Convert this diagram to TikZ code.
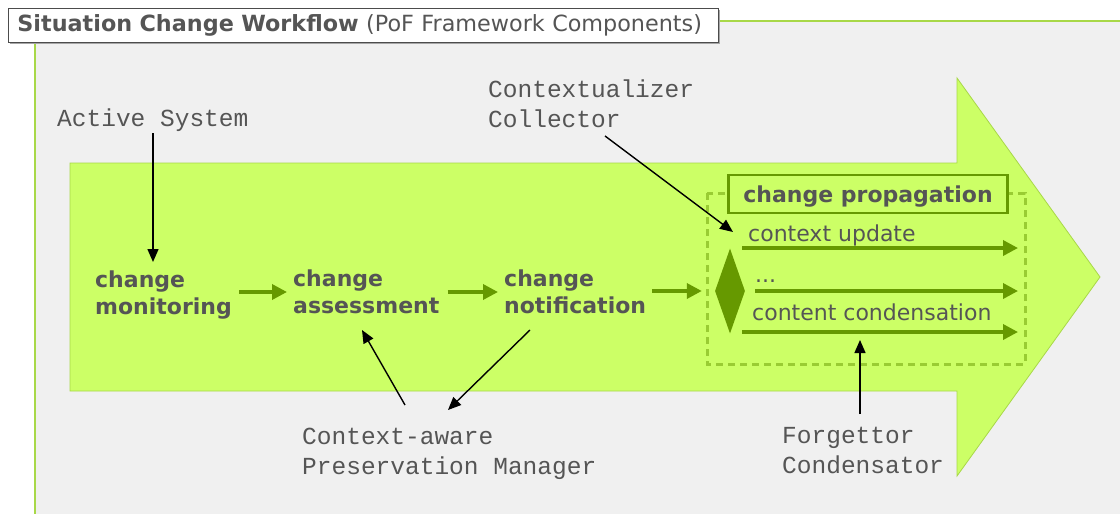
\documentclass[tikz,border=0pt]{standalone}
\usepackage{fontspec}
\setmainfont{DejaVu Sans}
\setmonofont{Liberation Mono}
\usepackage{xcolor}
\usetikzlibrary{shapes.geometric, arrows.meta, positioning}
\definecolor{panelgray}{HTML}{F0F0F0}
\definecolor{arrowgreen}{HTML}{CCFF66}
\definecolor{edgegreen}{HTML}{A8D848}
\definecolor{darkgreen}{HTML}{669900}
\definecolor{dashgreen}{HTML}{99CC33}
\definecolor{textgray}{HTML}{555555}

\begin{document}
\begin{tikzpicture}[x=1pt, y=-1pt,
	stage/.style={font=\fontsize{22}{26.5}\selectfont\bfseries, text=textgray, align=left, inner sep=0pt, anchor=west},
	actor/.style={font=\fontsize{24.5}{30}\selectfont\ttfamily, text=textgray, align=left, inner sep=0pt, anchor=west},
	task/.style={font=\fontsize{22}{26}\selectfont, text=textgray, inner sep=0pt, anchor=west},
	flow/.style={darkgreen, line width=3.5pt, -{Triangle[length=15pt, width=15pt]}},
	link/.style={black, line width=1.4pt, -{Triangle[length=13pt, width=11pt]}}]
	\useasboundingbox (0,0) rectangle (1120,514);
	\fill[panelgray] (35,21) rectangle (1120,514);
	\draw[edgegreen, line width=1.3pt] (35,514) -- (35,21) -- (1120,21);
	\fill[black!35] (10,10) rectangle (720,44);
	\node[draw=black!70, line width=0.8pt, fill=white, anchor=north west, minimum height=34pt, inner xsep=0pt, inner ysep=0pt, text width=710pt, align=left, font=\fontsize{22.3}{26}\selectfont, text=textgray] (title) at (8,8)
		{\hspace*{9pt}\textbf{Situation Change Workflow} (PoF Framework Components)};
	\filldraw[fill=arrowgreen, draw=edgegreen, line width=0.8pt]
		(70,163) -- (957,163) -- (957,78) -- (1100,277) -- (957,476) -- (957,391) -- (70,391) -- cycle;
	\draw[dashgreen, line width=3pt, dash pattern=on 7pt off 5pt] (707,193) rectangle (1025,364);
	\node[stage] (monitoring) at (95,295) {change\\monitoring};
	\node[stage] (assessment) at (293,292) {change\\assessment};
	\node[stage] (notification) at (504,292) {change\\notification};
	\node[diamond, fill=darkgreen, minimum width=30pt, minimum height=85pt, inner sep=0pt] (switch) at (730,291) {};
	\node[draw=darkgreen, line width=2.5pt, fill=arrowgreen, font=\fontsize{22}{26}\selectfont\bfseries, text=textgray, text height=18pt, text depth=2pt, minimum width=279pt, minimum height=38pt, inner sep=0pt] (propagation) at (868,194) {change propagation};
	\node[task] (update) at (748,235) {context update};
	\node[task] (dots) at (755,281) {...};
	\node[task] (condense) at (752,312) {content condensation};
	\coordinate (update-s) at (742,248);
	\coordinate (update-e) at (1018,248);
	\coordinate (dots-s) at (755,291);
	\coordinate (dots-e) at (1018,291);
	\coordinate (condense-s) at (742,332);
	\coordinate (condense-e) at (1018,332);
	\draw[flow] (update-s) -- (update-e);
	\draw[flow] (dots-s) -- (dots-e);
	\draw[flow] (condense-s) -- (condense-e);
	\draw[flow, shorten <=7pt, shorten >=6pt] (monitoring.east |- assessment.west) -- (assessment.west);
	\draw[flow, shorten <=8pt, shorten >=6pt] (assessment) -- (notification);
	\draw[flow, shorten <=6pt, shorten >=13pt] (notification.east |- switch.west) -- (switch.west);
	\node[actor] (active) at (57,120) {Active System};
	\node[actor] (collector) at (488,104) {Contextualizer\\Collector};
	\node[actor] (manager) at (302,454) {Context-aware\\Preservation Manager};
	\node[actor] (forgettor) at (782,450) {Forgettor\\Condensator};
	\coordinate (active-out) at (153,133);
	\coordinate (monitor-in) at (153,262);
	\coordinate (collector-out) at (605,136);
	\coordinate (update-in) at (733,232);
	\coordinate (manager-out) at (405,405);
	\coordinate (assess-in) at (362,330);
	\coordinate (notify-out) at (530,330);
	\coordinate (manager-in) at (448,410);
	\coordinate (forgettor-out) at (860,414);
	\coordinate (condense-in) at (860,340);
	\draw[link] (active-out) -- (monitor-in);
	\draw[link] (collector-out) -- (update-in);
	\draw[link] (manager-out) -- (assess-in);
	\draw[link] (notify-out) -- (manager-in);
	\draw[link] (forgettor-out) -- (condense-in);
\end{tikzpicture}
\end{document}
